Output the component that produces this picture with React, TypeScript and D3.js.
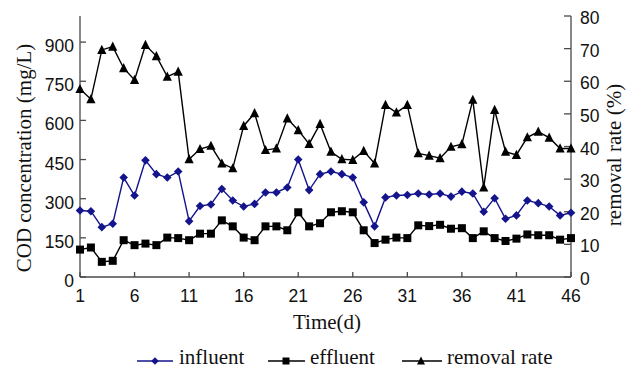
import React from "react";
import * as d3 from "d3";

// Daily COD monitoring over 46 days
const days: number[] = d3.range(1, 47);
const influent: number[] = [
  255, 252, 191, 204, 381, 312, 447, 394, 381, 404,
  214, 272, 278, 337, 293, 270, 280, 324, 324, 343,
  450, 333, 394, 404, 394, 381, 286, 194, 305, 312,
  314, 320, 316, 320, 308, 327, 320, 250, 302, 223,
  236, 293, 283, 270, 236, 246,
];
const effluent: number[] = [
  105, 113, 58, 62, 141, 122, 128, 122, 151, 149,
  141, 166, 166, 217, 194, 151, 141, 194, 194, 179,
  248, 194, 206, 248, 252, 248, 179, 130, 143, 151,
  149, 198, 195, 200, 185, 187, 149, 175, 149, 138,
  147, 163, 160, 160, 143, 149,
];
const removalRate: number[] = [
  57.6, 54.5, 69.6, 70.6, 64.0, 60.4, 71.1, 67.7, 61.4, 62.9,
  36.1, 39.2, 40.2, 34.8, 33.3, 46.3, 50.2, 38.9, 39.4, 48.6,
  45.0, 40.8, 46.9, 38.4, 36.1, 35.9, 38.6, 34.8, 52.7, 50.4,
  52.7, 37.9, 37.2, 36.4, 39.9, 40.7, 54.3, 27.4, 51.2, 38.4,
  37.4, 42.8, 44.5, 42.7, 39.4, 39.4,
];
const xTicks: number[] = [1, 6, 11, 16, 21, 26, 31, 36, 41, 46];
const leftTicks: number[] = [0, 150, 300, 450, 600, 750, 900];
const rightTicks: number[] = [0, 10, 20, 30, 40, 50, 60, 70, 80];

const W = 629;
const H = 369;
const plot = { left: 80, right: 571, top: 16, bottom: 277 };

const x = d3.scaleLinear().domain([1, 46]).range([plot.left, plot.right]);
const yL = d3.scaleLinear().domain([0, 1000]).range([plot.bottom, plot.top]);
const yR = d3.scaleLinear().domain([0, 80]).range([plot.bottom, plot.top]);

const BLUE = "#14148c";
const AXIS = "#4a4a4a";
const SANS = "'Liberation Sans', Arial, sans-serif";
const SERIF = "'Liberation Serif', 'Times New Roman', serif";

const diamond = (cx: number, cy: number, r = 4.3) =>
  `M${cx},${cy - r}L${cx + r},${cy}L${cx},${cy + r}L${cx - r},${cy}Z`;
const triangle = (cx: number, cy: number, s = 4.6) =>
  `M${cx},${cy - s - 0.6}L${cx + s},${cy + s - 0.6}L${cx - s},${cy + s - 0.6}Z`;

export default function App() {
  const lineL = d3
    .line<number>()
    .x((_, i) => x(days[i]))
    .y((v) => yL(v));
  const lineR = d3
    .line<number>()
    .x((_, i) => x(days[i]))
    .y((v) => yR(v));

  return (
    <svg
      width={W}
      height={H}
      style={{ position: "absolute", left: 0, top: 0, background: "#fff" }}
    >
      {/* axes */}
      <g stroke={AXIS} strokeWidth={1.3} fill="none">
        <line x1={plot.left} y1={plot.top} x2={plot.left} y2={plot.bottom} />
        <line x1={plot.right} y1={plot.top} x2={plot.right} y2={plot.bottom} />
        <line x1={plot.left} y1={plot.bottom} x2={plot.right} y2={plot.bottom} />
        {leftTicks.map((t) => (
          <line key={"lt" + t} x1={plot.left} x2={plot.left + 6} y1={yL(t)} y2={yL(t)} />
        ))}
        {rightTicks.map((t) => (
          <line key={"rt" + t} x1={plot.right - 7} x2={plot.right} y1={yR(t)} y2={yR(t)} />
        ))}
        {xTicks.map((t) => (
          <line key={"xt" + t} x1={x(t)} x2={x(t)} y1={plot.bottom} y2={plot.bottom - 5} />
        ))}
      </g>

      {/* tick labels */}
      <g fontFamily={SANS} fontSize={17.5} fill="#111">
        {leftTicks.map((t) => (
          <text key={"ll" + t} x={74} y={yL(t) + 10} textAnchor="end">
            {t}
          </text>
        ))}
        {rightTicks.map((t) => (
          <text key={"rl" + t} x={580} y={yR(t) + 8} textAnchor="start">
            {t}
          </text>
        ))}
        {xTicks.map((t) => (
          <text key={"xl" + t} x={x(t)} y={302} textAnchor="middle">
            {t}
          </text>
        ))}
      </g>

      {/* axis titles */}
      <g fontFamily={SERIF} fontSize={21} fill="#111">
        <text x={327} y={329} textAnchor="middle">
          Time(d)
        </text>
        <text transform="translate(30.5,158) rotate(-90)" textAnchor="middle">
          COD concentration (mg/L)
        </text>
        <text transform="translate(621,155) rotate(-90)" textAnchor="middle">
          removal rate (%)
        </text>
      </g>

      {/* series lines */}
      <path d={lineL(influent) ?? ""} fill="none" stroke={BLUE} strokeWidth={1.4} />
      <path d={lineL(effluent) ?? ""} fill="none" stroke="#000" strokeWidth={1.4} />
      <path d={lineR(removalRate) ?? ""} fill="none" stroke="#000" strokeWidth={1.4} />

      {/* markers */}
      {influent.map((v, i) => (
        <path key={"in" + i} d={diamond(x(days[i]), yL(v))} fill={BLUE} />
      ))}
      {effluent.map((v, i) => (
        <rect
          key={"ef" + i}
          x={x(days[i]) - 4}
          y={yL(v) - 4}
          width={8}
          height={8}
          fill="#000"
        />
      ))}
      {removalRate.map((v, i) => (
        <path key={"rr" + i} d={triangle(x(days[i]), yR(v))} fill="#000" />
      ))}

      {/* legend */}
      <g fontFamily={SERIF} fontSize={21} fill="#111">
        <line x1={137} x2={173} y1={361} y2={361} stroke={BLUE} strokeWidth={1.4} />
        <path d={diamond(155, 361, 3.8)} fill={BLUE} />
        <text x={179} y={364}>influent</text>

        <line x1={268} x2={305} y1={361} y2={361} stroke="#000" strokeWidth={1.4} />
        <rect x={282.5} y={357.5} width={7} height={7} fill="#000" />
        <text x={310} y={364}>effluent</text>

        <line x1={402} x2={442} y1={361} y2={361} stroke="#000" strokeWidth={1.4} />
        <path d={triangle(421, 361, 4)} fill="#000" />
        <text x={447} y={364}>removal rate</text>
      </g>
    </svg>
  );
}
